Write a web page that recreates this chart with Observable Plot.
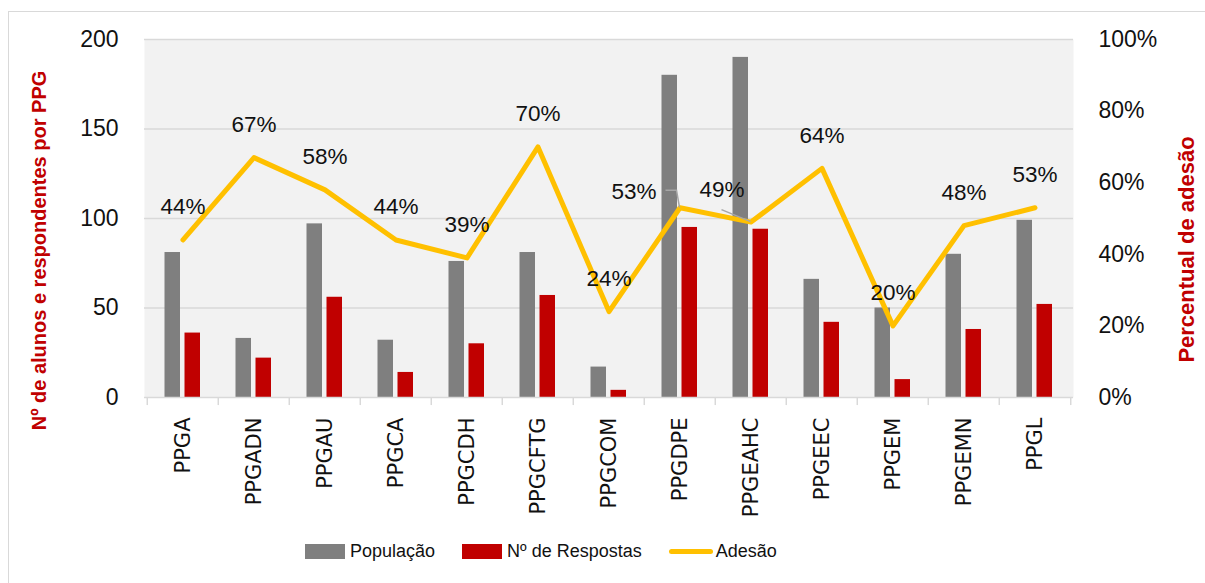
<!DOCTYPE html>
<html>
<head>
<meta charset="utf-8">
<script src="https://cdn.jsdelivr.net/npm/d3@7"></script>
<script src="https://cdn.jsdelivr.net/npm/@observablehq/plot@0.6"></script>
<style>
  html, body { margin: 0; padding: 0; background: #fff; }
  #wrap { position: relative; width: 1205px; height: 583px; overflow: hidden; }
  #frame { position: absolute; left: 8px; top: 11px; width: 1210px; height: 590px; border: 1px solid #d9d9d9; box-sizing: border-box; }
  #chart { position: absolute; left: 0; top: 0; }
  #legend { position: absolute; left: 305px; top: 541px; display: flex; align-items: center; font-family: "Liberation Sans", Arial, sans-serif; font-size: 18px; color: #111; }
  .item { display: flex; align-items: center; margin-right: 27px; }
  .sw { width: 40px; height: 15px; margin-right: 5px; }
  .ln { width: 44px; height: 5px; border-radius: 3px; margin-right: 3px; }
</style>
</head>
<body>
<div id="wrap">
  <div id="frame"></div>
  <div id="chart"></div>
  <div id="legend"></div>
</div>
<script>
// ---- data ----
const categories = ["PPGA","PPGADN","PPGAU","PPGCA","PPGCDH","PPGCFTG","PPGCOM","PPGDPE","PPGEAHC","PPGEEC","PPGEM","PPGEMN","PPGL"];
const populacao  = [81, 33, 97, 32, 76, 81, 17, 180, 190, 66, 50, 80, 99];
const respostas  = [36, 22, 56, 14, 30, 57, 4, 95, 94, 42, 10, 38, 52];
const adesao     = [44, 67, 58, 44, 39, 70, 24, 53, 49, 64, 20, 48, 53]; // percent
const leftTicks  = [0, 50, 100, 150, 200];
const rightTicks = [0, 20, 40, 60, 80, 100]; // percent
const seriesNames = ["População", "Nº de Respostas", "Adesão"];
const leftTitle  = "Nº de alunos e respondentes por PPG";
const rightTitle = "Percentual de adesão";
const movedLabels = ["PPGDPE", "PPGEAHC"];

const rows = categories.map((c, i) => ({cat: c, pop: populacao[i], resp: respostas[i], pct: adesao[i]}));
const pctToY = p => p * 2; // 100% maps to 200 on the left axis

const colPop = "#7f7f7f", colResp = "#c00000", colLine = "#ffc000";
const step = (1205 - 144 - 132) / categories.length;

// leader lines for manually moved labels
function leaders(index, scales) {
  const g = d3.create("svg:g").attr("stroke", "#a6a6a6").attr("stroke-width", 1.5).attr("fill", "none");
  const x = scales.x, y = scales.y;
  const bw = x(categories[1]) - x(categories[0]);
  rows.filter(r => movedLabels.includes(r.cat)).forEach(r => {
    const px = x(r.cat) + bw / 2, py = y(pctToY(r.pct));
    if (r.cat === "PPGDPE") {
      g.append("path").attr("d", `M${px - 14},${py - 17}H${px - 3}L${px},${py}`);
    } else {
      g.append("path").attr("d", `M${px - 29},${py - 12}L${px},${py}`);
    }
  });
  return g.node();
}

const plot = Plot.plot({
  width: 1205,
  height: 530,
  marginTop: 39,
  marginBottom: 133,
  marginLeft: 144,
  marginRight: 132,
  style: {fontFamily: "'Liberation Sans', Arial, sans-serif", fontSize: "23px", color: "#111", background: "transparent", overflow: "visible"},
  x: {domain: categories, padding: 0, label: null},
  y: {domain: [0, 200], label: null},
  marks: [
    Plot.frame({fill: "#f2f2f2", stroke: null}),
    Plot.gridY({ticks: [50, 100, 150, 200], stroke: "#d9d9d9", strokeOpacity: 1, strokeWidth: 1.3}),
    Plot.barY(rows, {x: "cat", y: "pop", fill: colPop, insetLeft: 17.5, insetRight: 38}),
    Plot.barY(rows, {x: "cat", y: "resp", fill: colResp, insetLeft: 37.5, insetRight: 18}),
    Plot.ruleY([0], {stroke: "#d9d9d9", strokeWidth: 1.5}),
    Plot.ruleX(categories, {x: d => d, y1: 0, y2: -4.5, dx: -step / 2, stroke: "#d9d9d9", strokeWidth: 1.5}),
    Plot.ruleX(categories.slice(-1), {x: d => d, y1: 0, y2: -4.5, dx: step / 2, stroke: "#d9d9d9", strokeWidth: 1.5}),
    Plot.axisY({anchor: "left", ticks: leftTicks, tickSize: 0, tickPadding: 26, label: null, fontSize: 23}),
    Plot.axisY({anchor: "right", ticks: rightTicks.map(pctToY), tickFormat: d => (d / 2) + "%", tickSize: 0, tickPadding: 25, label: null, fontSize: 23}),
    Plot.axisX({anchor: "bottom", tickRotate: -90, tickSize: 0, tickPadding: 20, label: null, fontSize: 21, fontFamily: "'DejaVu Sans', sans-serif"}),
    Plot.line(rows, {x: "cat", y: d => pctToY(d.pct), stroke: colLine, strokeWidth: 5, strokeLinejoin: "round", strokeLinecap: "round"}),
    leaders,
    Plot.text(rows.filter(r => !movedLabels.includes(r.cat)), {x: "cat", y: d => pctToY(d.pct), text: d => d.pct + "%", dy: -33, fontSize: 22.5, fill: "#111"}),
    Plot.text(rows.filter(r => r.cat === "PPGDPE"), {x: "cat", y: d => pctToY(d.pct), text: d => d.pct + "%", dx: -46, dy: -16, fontSize: 22.5, fill: "#111"}),
    Plot.text(rows.filter(r => r.cat === "PPGEAHC"), {x: "cat", y: d => pctToY(d.pct), text: d => d.pct + "%", dx: -29, dy: -32, fontSize: 22.5, fill: "#111"}),
    Plot.text([leftTitle], {frameAnchor: "left", textAnchor: "middle", rotate: -90, dx: -105, dy: 32, fontSize: 20, fontWeight: "bold", fill: "#c00000"}),
    Plot.text([rightTitle], {frameAnchor: "right", textAnchor: "middle", rotate: -90, dx: 113, dy: 31, fontSize: 22, fontWeight: "bold", fill: "#c00000"})
  ]
});
document.getElementById("chart").appendChild(plot);

// legend
const legend = document.getElementById("legend");
const legendDefs = [
  {name: seriesNames[0], color: colPop, kind: "sw"},
  {name: seriesNames[1], color: colResp, kind: "sw"},
  {name: seriesNames[2], color: colLine, kind: "ln"}
];
legendDefs.forEach(d => {
  const item = document.createElement("div");
  item.className = "item";
  const sw = document.createElement("div");
  sw.className = d.kind;
  sw.style.background = d.color;
  const t = document.createElement("span");
  t.textContent = d.name;
  item.appendChild(sw);
  item.appendChild(t);
  legend.appendChild(item);
});
</script>
</body>
</html>
